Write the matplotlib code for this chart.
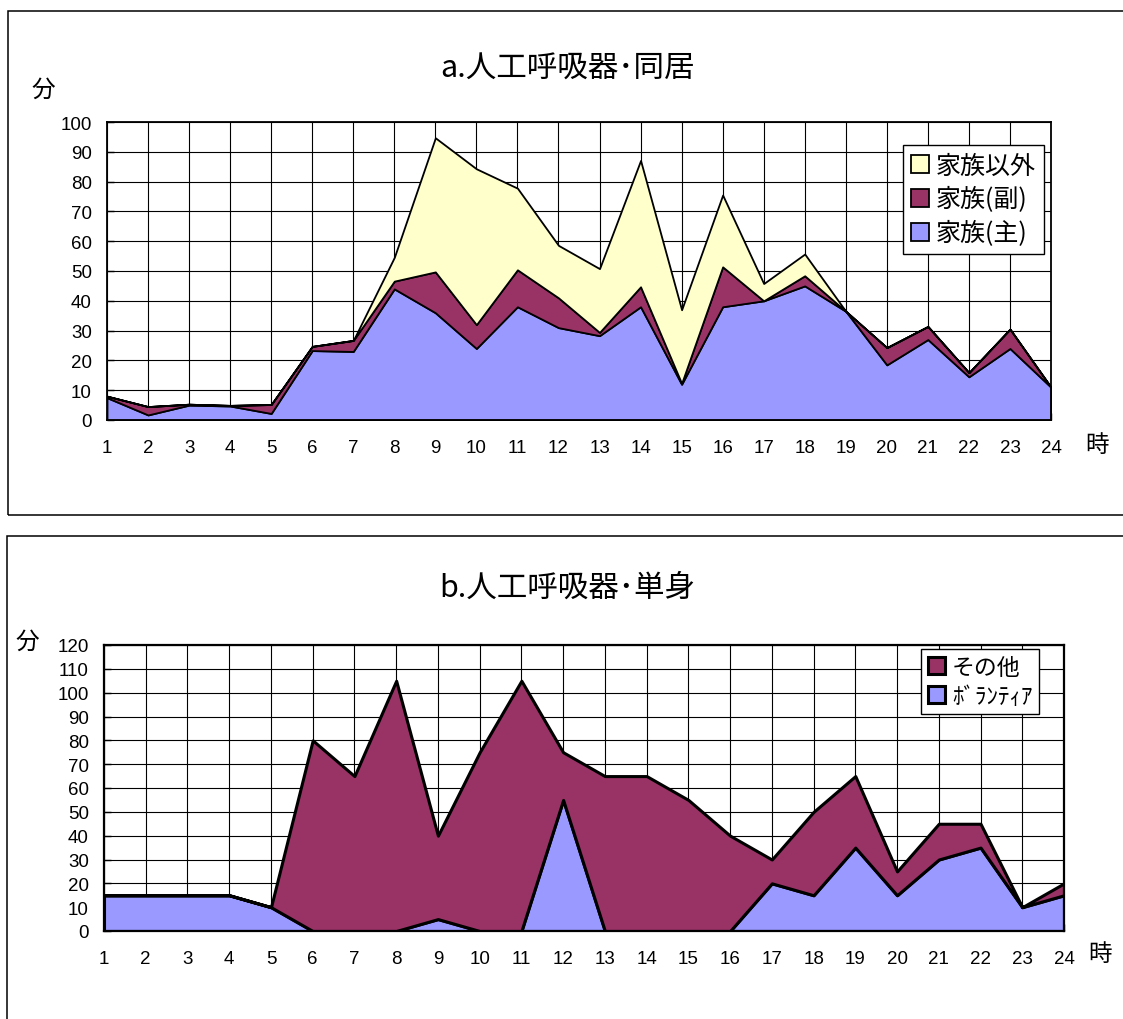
"""
Ventilator care time by hour: living with family vs. living alone
"""

import matplotlib
matplotlib.use('Agg')
import matplotlib.pyplot as plt
from matplotlib.patches import Rectangle

# hours of the day
hours = list(range(1, 25))

# a. 人工呼吸器・同居 (minutes per hour)
family_main = [7.5, 1.7, 5, 4.7, 2.2, 23.3, 23, 44, 36, 24, 38, 31,
               28.3, 38, 12, 38, 40, 45, 36.5, 18.5, 27, 14.5, 24, 11]
family_sub = [0.5, 2.8, 0.3, 0.2, 3, 1.4, 3.7, 2.6, 13.7, 8, 12.4, 10,
              1.1, 6.7, 0.3, 13.4, 0, 3.4, 0, 5.8, 4.4, 1.4, 6.5, 0]
non_family = [0, 0, 0, 0, 0, 0, 0, 8, 45, 52.3, 27.4, 17.6,
              21.4, 42.4, 24.7, 24.1, 5.8, 7.3, 0, 0, 0, 0, 0, 0]

# b. 人工呼吸器・単身
volunteer = [15, 15, 15, 15, 10, 0, 0, 0, 5, 0, 0, 55,
             0, 0, 0, 0, 20, 15, 35, 15, 30, 35, 10, 15]
others = [0, 0, 0, 0, 0, 80, 65, 105, 35, 75, 105, 20,
          65, 65, 55, 40, 10, 35, 30, 10, 15, 10, 0, 5]

labels_a = ['家族(主)', '家族(副)', '家族以外']
labels_b = ['ﾎﾞﾗﾝﾃｨｱ', 'その他']

BLUE = '#9999FF'
PLUM = '#993366'
CREAM = '#FFFFCC'

NUM_FONT = ['Liberation Sans', 'Noto Sans CJK JP']
JP_FONT = ['Noto Sans CJK JP', 'DejaVu Sans']

W, H = 1123, 1020


def fx(px):
    return px / W


def fy(py):
    return 1 - py / H


def style_axes(ax, ymax, lw):
    ax.set_xlim(1, 24)
    ax.set_ylim(0, ymax)
    ax.set_xticks(hours)
    ax.set_yticks(range(0, ymax + 1, 10))
    ax.grid(True, color='black', linewidth=0.8)
    ax.set_axisbelow(True)
    ax.tick_params(direction='in', length=5, width=1, labelsize=13.5, color='black')
    ax.tick_params(axis='x', pad=14)
    ax.tick_params(axis='y', pad=11)
    for lab in ax.get_xticklabels() + ax.get_yticklabels():
        lab.set_family(NUM_FONT)
    for sp in ax.spines.values():
        sp.set_color('black')
        sp.set_linewidth(lw)
        sp.set_zorder(5)


def main():
    fig = plt.figure(figsize=(W / 100, H / 100), dpi=100)
    fig.patch.set_facecolor('white')

    # outer frames around each chart
    fig.patches.append(Rectangle((fx(7.7), fy(516)), 1.1, fy(11.7) - fy(516),
                                 transform=fig.transFigure, fill=False,
                                 edgecolor='black', linewidth=1.1))
    fig.patches.append(Rectangle((fx(7.3), -0.05), 1.1, fy(536.7) + 0.05,
                                 transform=fig.transFigure, fill=False,
                                 edgecolor='black', linewidth=1.1))

    # ---- chart a ----
    ax1 = fig.add_axes([fx(107), fy(421), fx(1051) - fx(107), fy(123) - fy(421)])
    polys = ax1.stackplot(hours, family_main, family_sub, non_family,
                          colors=[BLUE, PLUM, CREAM], labels=labels_a,
                          edgecolor='black', linewidth=1.3, zorder=3)
    style_axes(ax1, 100, 1.3)
    ax1.legend(handles=polys[::-1], labels=labels_a[::-1],
               loc='upper left', bbox_to_anchor=(fx(903), fy(146)),
               bbox_transform=fig.transFigure, prop={'family': JP_FONT, 'size': 18},
               frameon=True, fancybox=False, edgecolor='black', framealpha=1,
               handlelength=0.72, handleheight=0.72, handletextpad=0.3,
               labelspacing=0.32, borderpad=0.3, borderaxespad=0)
    ax1.get_legend().get_frame().set_linewidth(1.0)

    fig.text(fx(567), fy(69), 'a.人工呼吸器･同居', family=JP_FONT, fontsize=22,
             ha='center', va='center')
    fig.text(fx(43), fy(90), '分', family=JP_FONT, fontsize=17, ha='center', va='center')
    fig.text(fx(1097), fy(446), '時', family=JP_FONT, fontsize=17, ha='center', va='center')

    # ---- chart b ----
    ax2 = fig.add_axes([fx(104), fy(932), fx(1064) - fx(104), fy(646) - fy(932)])
    polys = ax2.stackplot(hours, volunteer, others,
                          colors=[BLUE, PLUM], labels=labels_b,
                          edgecolor='black', linewidth=2.2, zorder=3)
    style_axes(ax2, 120, 1.6)
    ax2.legend(handles=polys[::-1], labels=labels_b[::-1],
               loc='upper left', bbox_to_anchor=(fx(921), fy(650)),
               bbox_transform=fig.transFigure, prop={'family': JP_FONT, 'size': 16.5},
               frameon=True, fancybox=False, edgecolor='black', framealpha=1,
               handlelength=0.75, handleheight=0.75, handletextpad=0.3,
               labelspacing=0.25, borderpad=0.3, borderaxespad=0)
    ax2.get_legend().get_frame().set_linewidth(1.0)

    fig.text(fx(567), fy(588), 'b.人工呼吸器･単身', family=JP_FONT, fontsize=22,
             ha='center', va='center')
    fig.text(fx(27), fy(642), '分', family=JP_FONT, fontsize=17, ha='center', va='center')
    fig.text(fx(1100), fy(955), '時', family=JP_FONT, fontsize=17, ha='center', va='center')

    fig.savefig('out.png', dpi=100, facecolor='white')
    plt.close(fig)


if __name__ == "__main__":
    main()
